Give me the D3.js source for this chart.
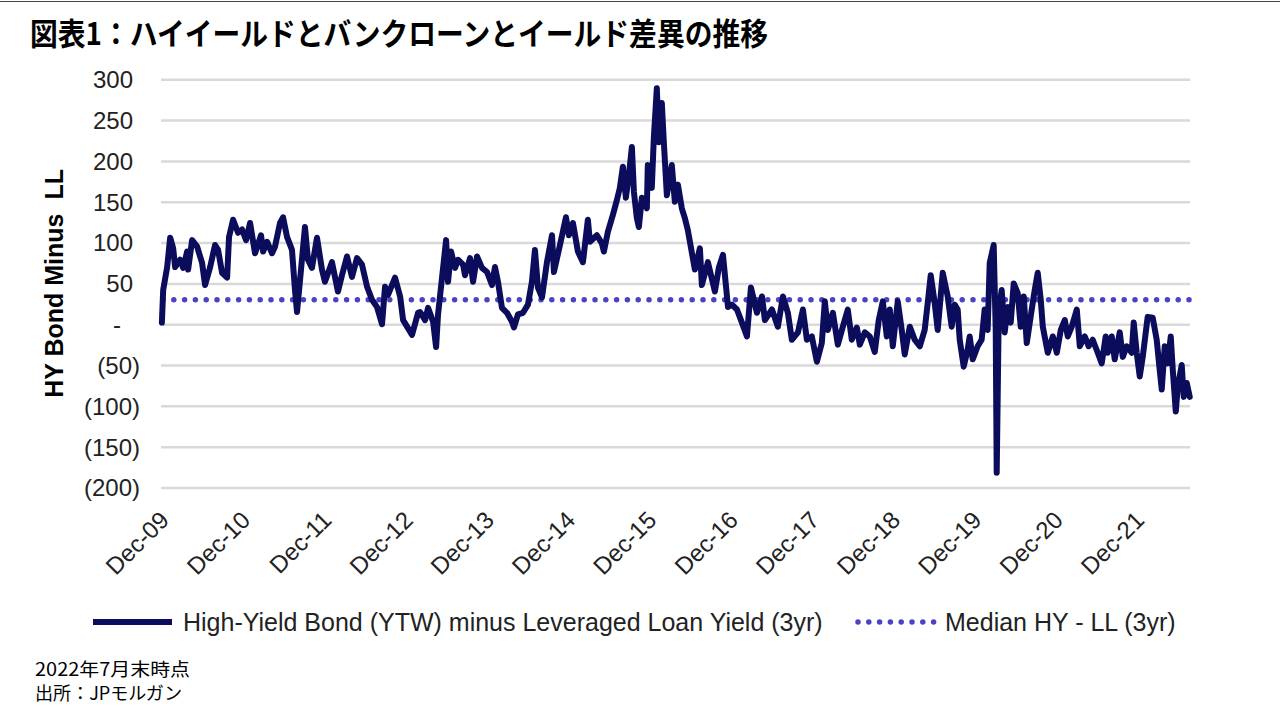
<!DOCTYPE html>
<html>
<head>
<meta charset="utf-8">
<script src="https://cdn.jsdelivr.net/npm/d3@7"></script>
<style>
  html, body { margin: 0; padding: 0; background: #ffffff; }
  svg { display: block; }
</style>
</head>
<body>
<svg id="chart" width="1280" height="720"></svg>
<script>
// ---------------- data ----------------
const titleText = "図表1：ハイイールドとバンクローンとイールド差異の推移";
const yAxisTitle = "HY Bond Minus\u00a0\u00a0LL";
const seriesNames = ["High-Yield Bond (YTW) minus Leveraged Loan Yield (3yr)", "Median HY - LL (3yr)"];
const notes = ["2022年7月末時点", "出所：JPモルガン"];
const yTicks = [300, 250, 200, 150, 100, 50, 0, -50, -100, -150, -200];
const xTickYears = [2009, 2010, 2011, 2012, 2013, 2014, 2015, 2016, 2017, 2018, 2019, 2020, 2021];
const medianValue = 30;
// [decimal year, spread in bp]
const hyMinusLL = [
 [2009.926,2],[2009.942,42],[2009.991,70],[2010.028,106],[2010.065,93],[2010.089,70],[2010.151,79],[2010.188,69],
 [2010.237,89],[2010.249,67],[2010.298,103],[2010.360,95],[2010.421,75],[2010.458,48],[2010.520,70],[2010.581,97],
 [2010.618,91],[2010.667,63],[2010.729,57],[2010.753,107],[2010.803,128],[2010.864,112],[2010.913,116],[2010.963,103],
 [2011.012,124],[2011.073,87],[2011.147,109],[2011.172,89],[2011.221,101],[2011.282,87],[2011.319,95],[2011.381,124],
 [2011.418,131],[2011.467,107],[2011.528,91],[2011.565,42],[2011.590,15],[2011.627,54],[2011.688,119],[2011.725,79],
 [2011.774,69],[2011.836,106],[2011.897,67],[2011.934,52],[2012.020,76],[2012.094,40],[2012.143,60],[2012.205,83],
 [2012.266,58],[2012.328,81],[2012.389,73],[2012.451,46],[2012.512,30],[2012.574,21],[2012.635,0],[2012.672,46],
 [2012.709,36],[2012.795,57],[2012.857,34],[2012.894,5],[2013.004,-13],[2013.078,14],[2013.103,15],[2013.164,5],
 [2013.201,20],[2013.263,3],[2013.300,-28],[2013.324,12],[2013.373,57],[2013.423,103],[2013.447,52],[2013.484,89],
 [2013.533,69],[2013.570,79],[2013.632,73],[2013.656,60],[2013.718,81],[2013.755,52],[2013.804,83],[2013.865,69],
 [2013.927,64],[2013.988,48],[2014.025,70],[2014.062,52],[2014.111,20],[2014.173,14],[2014.234,3],[2014.259,-4],
 [2014.308,12],[2014.370,14],[2014.431,24],[2014.480,52],[2014.517,91],[2014.554,45],[2014.604,33],[2014.665,76],
 [2014.727,109],[2014.751,64],[2014.825,97],[2014.899,131],[2014.935,109],[2014.985,124],[2015.046,89],[2015.108,76],
 [2015.169,128],[2015.194,101],[2015.280,109],[2015.341,99],[2015.366,89],[2015.415,113],[2015.477,134],[2015.526,152],
 [2015.563,167],[2015.600,193],[2015.637,155],[2015.674,183],[2015.711,217],[2015.736,162],[2015.772,130],[2015.797,119],
 [2015.834,155],[2015.895,142],[2015.907,195],[2015.956,167],[2015.981,228],[2016.018,289],[2016.042,223],[2016.079,271],
 [2016.104,223],[2016.141,158],[2016.202,195],[2016.239,150],[2016.276,171],[2016.325,142],[2016.362,130],[2016.399,115],
 [2016.485,67],[2016.547,93],[2016.571,48],[2016.645,76],[2016.731,40],[2016.781,70],[2016.830,85],[2016.892,21],
 [2016.940,24],[2017.002,18],[2017.063,2],[2017.125,-15],[2017.174,45],[2017.248,14],[2017.310,34],[2017.346,5],
 [2017.433,18],[2017.506,-3],[2017.568,34],[2017.629,14],[2017.678,-19],[2017.753,-10],[2017.814,18],[2017.863,-19],
 [2017.924,-15],[2017.986,-46],[2018.047,-23],[2018.084,28],[2018.121,-7],[2018.183,14],[2018.244,-25],[2018.306,-3],
 [2018.367,18],[2018.416,-19],[2018.478,-4],[2018.515,-25],[2018.576,-10],[2018.638,-15],[2018.699,-34],[2018.748,5],
 [2018.798,28],[2018.847,-15],[2018.884,18],[2018.921,-27],[2018.982,28],[2019.031,-7],[2019.068,-37],[2019.130,-3],
 [2019.191,-19],[2019.253,-27],[2019.314,-7],[2019.351,26],[2019.388,60],[2019.437,26],[2019.474,-7],[2019.536,63],
 [2019.597,34],[2019.646,-3],[2019.683,24],[2019.720,18],[2019.745,-19],[2019.794,-52],[2019.843,-31],[2019.868,-15],
 [2019.905,-43],[2019.966,-27],[2020.015,-19],[2020.052,18],[2020.089,-7],[2020.114,75],[2020.163,97],[2020.188,-7],
 [2020.200,-182],[2020.212,-89],[2020.225,14],[2020.261,42],[2020.298,-10],[2020.335,21],[2020.372,2],[2020.409,50],
 [2020.458,38],[2020.495,-3],[2020.532,34],[2020.569,-23],[2020.630,18],[2020.667,42],[2020.704,63],[2020.741,30],
 [2020.766,-3],[2020.827,-35],[2020.889,-15],[2020.938,-35],[2020.987,-7],[2021.036,5],[2021.073,-15],[2021.122,-3],
 [2021.184,18],[2021.221,-27],[2021.282,-15],[2021.331,-27],[2021.380,-19],[2021.442,-35],[2021.491,-48],[2021.540,-15],
 [2021.565,-35],[2021.614,-15],[2021.651,-43],[2021.713,-10],[2021.750,-40],[2021.799,-27],[2021.860,-35],[2021.885,2],
 [2021.922,-35],[2021.959,-64],[2021.996,-40],[2022.057,9],[2022.119,8],[2022.168,-19],[2022.205,-56],[2022.230,-80],
 [2022.267,-27],[2022.304,-48],[2022.341,-15],[2022.366,-56],[2022.403,-107],[2022.427,-77],[2022.476,-50],[2022.501,-89],
 [2022.538,-72],[2022.575,-89]
];

// ---------------- helpers ----------------
function yearToDate(yf) {
  const yr = Math.floor(yf);
  const s = new Date(yr, 0, 1), e = new Date(yr + 1, 0, 1);
  return new Date(s.getTime() + (yf - yr) * (e - s));
}
const dataPts = hyMinusLL.map(d => ({ date: yearToDate(d[0]), value: d[1] }));

const NAVY = "#0c0c5c";
const MEDIAN_C = "#4c43c4";
const GRID_C = "#d9d9d9";
const LATIN = "'Liberation Sans', Arial, sans-serif";
const CJK = "'Noto Sans CJK JP', 'Noto Sans', sans-serif";

const svg = d3.select("#chart");
const plotL = 161, plotR = 1190, plotT = 79.3, plotB = 487.5;

const xScale = d3.scaleTime()
  .domain([new Date(2009, 11, 1), new Date(2022, 6, 31)])
  .range([plotL, plotR]);
const yScale = d3.scaleLinear().domain([-200, 300]).range([plotB, plotT]);

// top rule
svg.append("line").attr("x1", 0).attr("x2", 1280).attr("y1", 1.5).attr("y2", 1.5)
  .attr("stroke", "#444").attr("stroke-width", 1);

// title
svg.append("text")
  .attr("x", 30).attr("y", 45)
  .attr("font-family", CJK).attr("font-weight", 700).attr("font-size", 31)
  .attr("textLength", 738).attr("lengthAdjust", "spacingAndGlyphs")
  .attr("fill", "#000")
  .text(titleText);

// gridlines
const grid = svg.append("g").attr("transform", `translate(${plotL},0)`)
  .call(d3.axisLeft(yScale).tickValues(yTicks).tickSize(-(plotR - plotL)).tickFormat(""));
grid.select(".domain").remove();
grid.selectAll(".tick line").attr("stroke", GRID_C).attr("stroke-width", 2.5);

// y labels
function fmtY(v) { return v === 0 ? "-" : (v < 0 ? "(" + (-v) + ")" : String(v)); }
const yax = svg.append("g").attr("transform", `translate(${plotL},0)`)
  .call(d3.axisLeft(yScale).tickValues(yTicks).tickSize(0).tickFormat(fmtY));
yax.select(".domain").remove();
yax.selectAll(".tick text")
  .attr("font-family", LATIN).attr("font-size", 24).attr("fill", "#222")
  .attr("x", d => d < 0 ? 140 - plotL : (d === 0 ? 121 - plotL : 133 - plotL))
  .attr("dy", "0.35em");

// y title
svg.append("text")
  .attr("transform", `translate(63,${(plotT + plotB) / 2}) rotate(-90)`)
  .attr("text-anchor", "middle")
  .attr("font-family", LATIN).attr("font-weight", 700).attr("font-size", 25)
  .attr("fill", "#000")
  .text(yAxisTitle);

// x labels
const xTickDates = xTickYears.map(yr => new Date(yr, 11, 1));
const xax = svg.append("g").attr("transform", `translate(0,${plotB})`)
  .call(d3.axisBottom(xScale).tickValues(xTickDates).tickSize(0).tickFormat(d3.timeFormat("%b-%y")));
xax.select(".domain").remove();
xax.selectAll(".tick text")
  .attr("font-family", LATIN).attr("font-size", 24).attr("fill", "#222")
  .attr("text-anchor", "end")
  .attr("y", 0).attr("dy", 0)
  .attr("transform", "translate(9,34) rotate(-45)");

// median line
svg.append("line")
  .attr("x1", plotL + 2).attr("x2", plotR)
  .attr("y1", yScale(medianValue)).attr("y2", yScale(medianValue))
  .attr("stroke", MEDIAN_C).attr("stroke-width", 5.5)
  .attr("stroke-linecap", "round").attr("stroke-dasharray", "0 10.8");

// main series
const lineGen = d3.line().x(d => xScale(d.date)).y(d => yScale(d.value));
svg.append("path").datum(dataPts)
  .attr("d", lineGen)
  .attr("fill", "none").attr("stroke", NAVY).attr("stroke-width", 6)
  .attr("stroke-linejoin", "round").attr("stroke-linecap", "round");

// legend
const legY = 622;
svg.append("line").attr("x1", 93).attr("x2", 172).attr("y1", legY).attr("y2", legY)
  .attr("stroke", NAVY).attr("stroke-width", 6);
svg.append("text").attr("x", 183).attr("y", legY).attr("dy", "0.35em")
  .attr("font-family", LATIN).attr("font-size", 25).attr("fill", "#222")
  .text(seriesNames[0]);
svg.append("line").attr("x1", 858).attr("x2", 935).attr("y1", legY).attr("y2", legY)
  .attr("stroke", MEDIAN_C).attr("stroke-width", 5.5)
  .attr("stroke-linecap", "round").attr("stroke-dasharray", "0 10.8");
svg.append("text").attr("x", 945).attr("y", legY).attr("dy", "0.35em")
  .attr("font-family", LATIN).attr("font-size", 25).attr("fill", "#222")
  .text(seriesNames[1]);

// notes
svg.append("text").attr("x", 35).attr("y", 676)
  .attr("font-family", CJK).attr("font-size", 18).attr("fill", "#000")
  .attr("textLength", 155).attr("lengthAdjust", "spacingAndGlyphs")
  .text(notes[0]);
svg.append("text").attr("x", 35).attr("y", 700)
  .attr("font-family", CJK).attr("font-size", 18).attr("fill", "#000")
  .attr("textLength", 147).attr("lengthAdjust", "spacingAndGlyphs")
  .text(notes[1]);
</script>
</body>
</html>
